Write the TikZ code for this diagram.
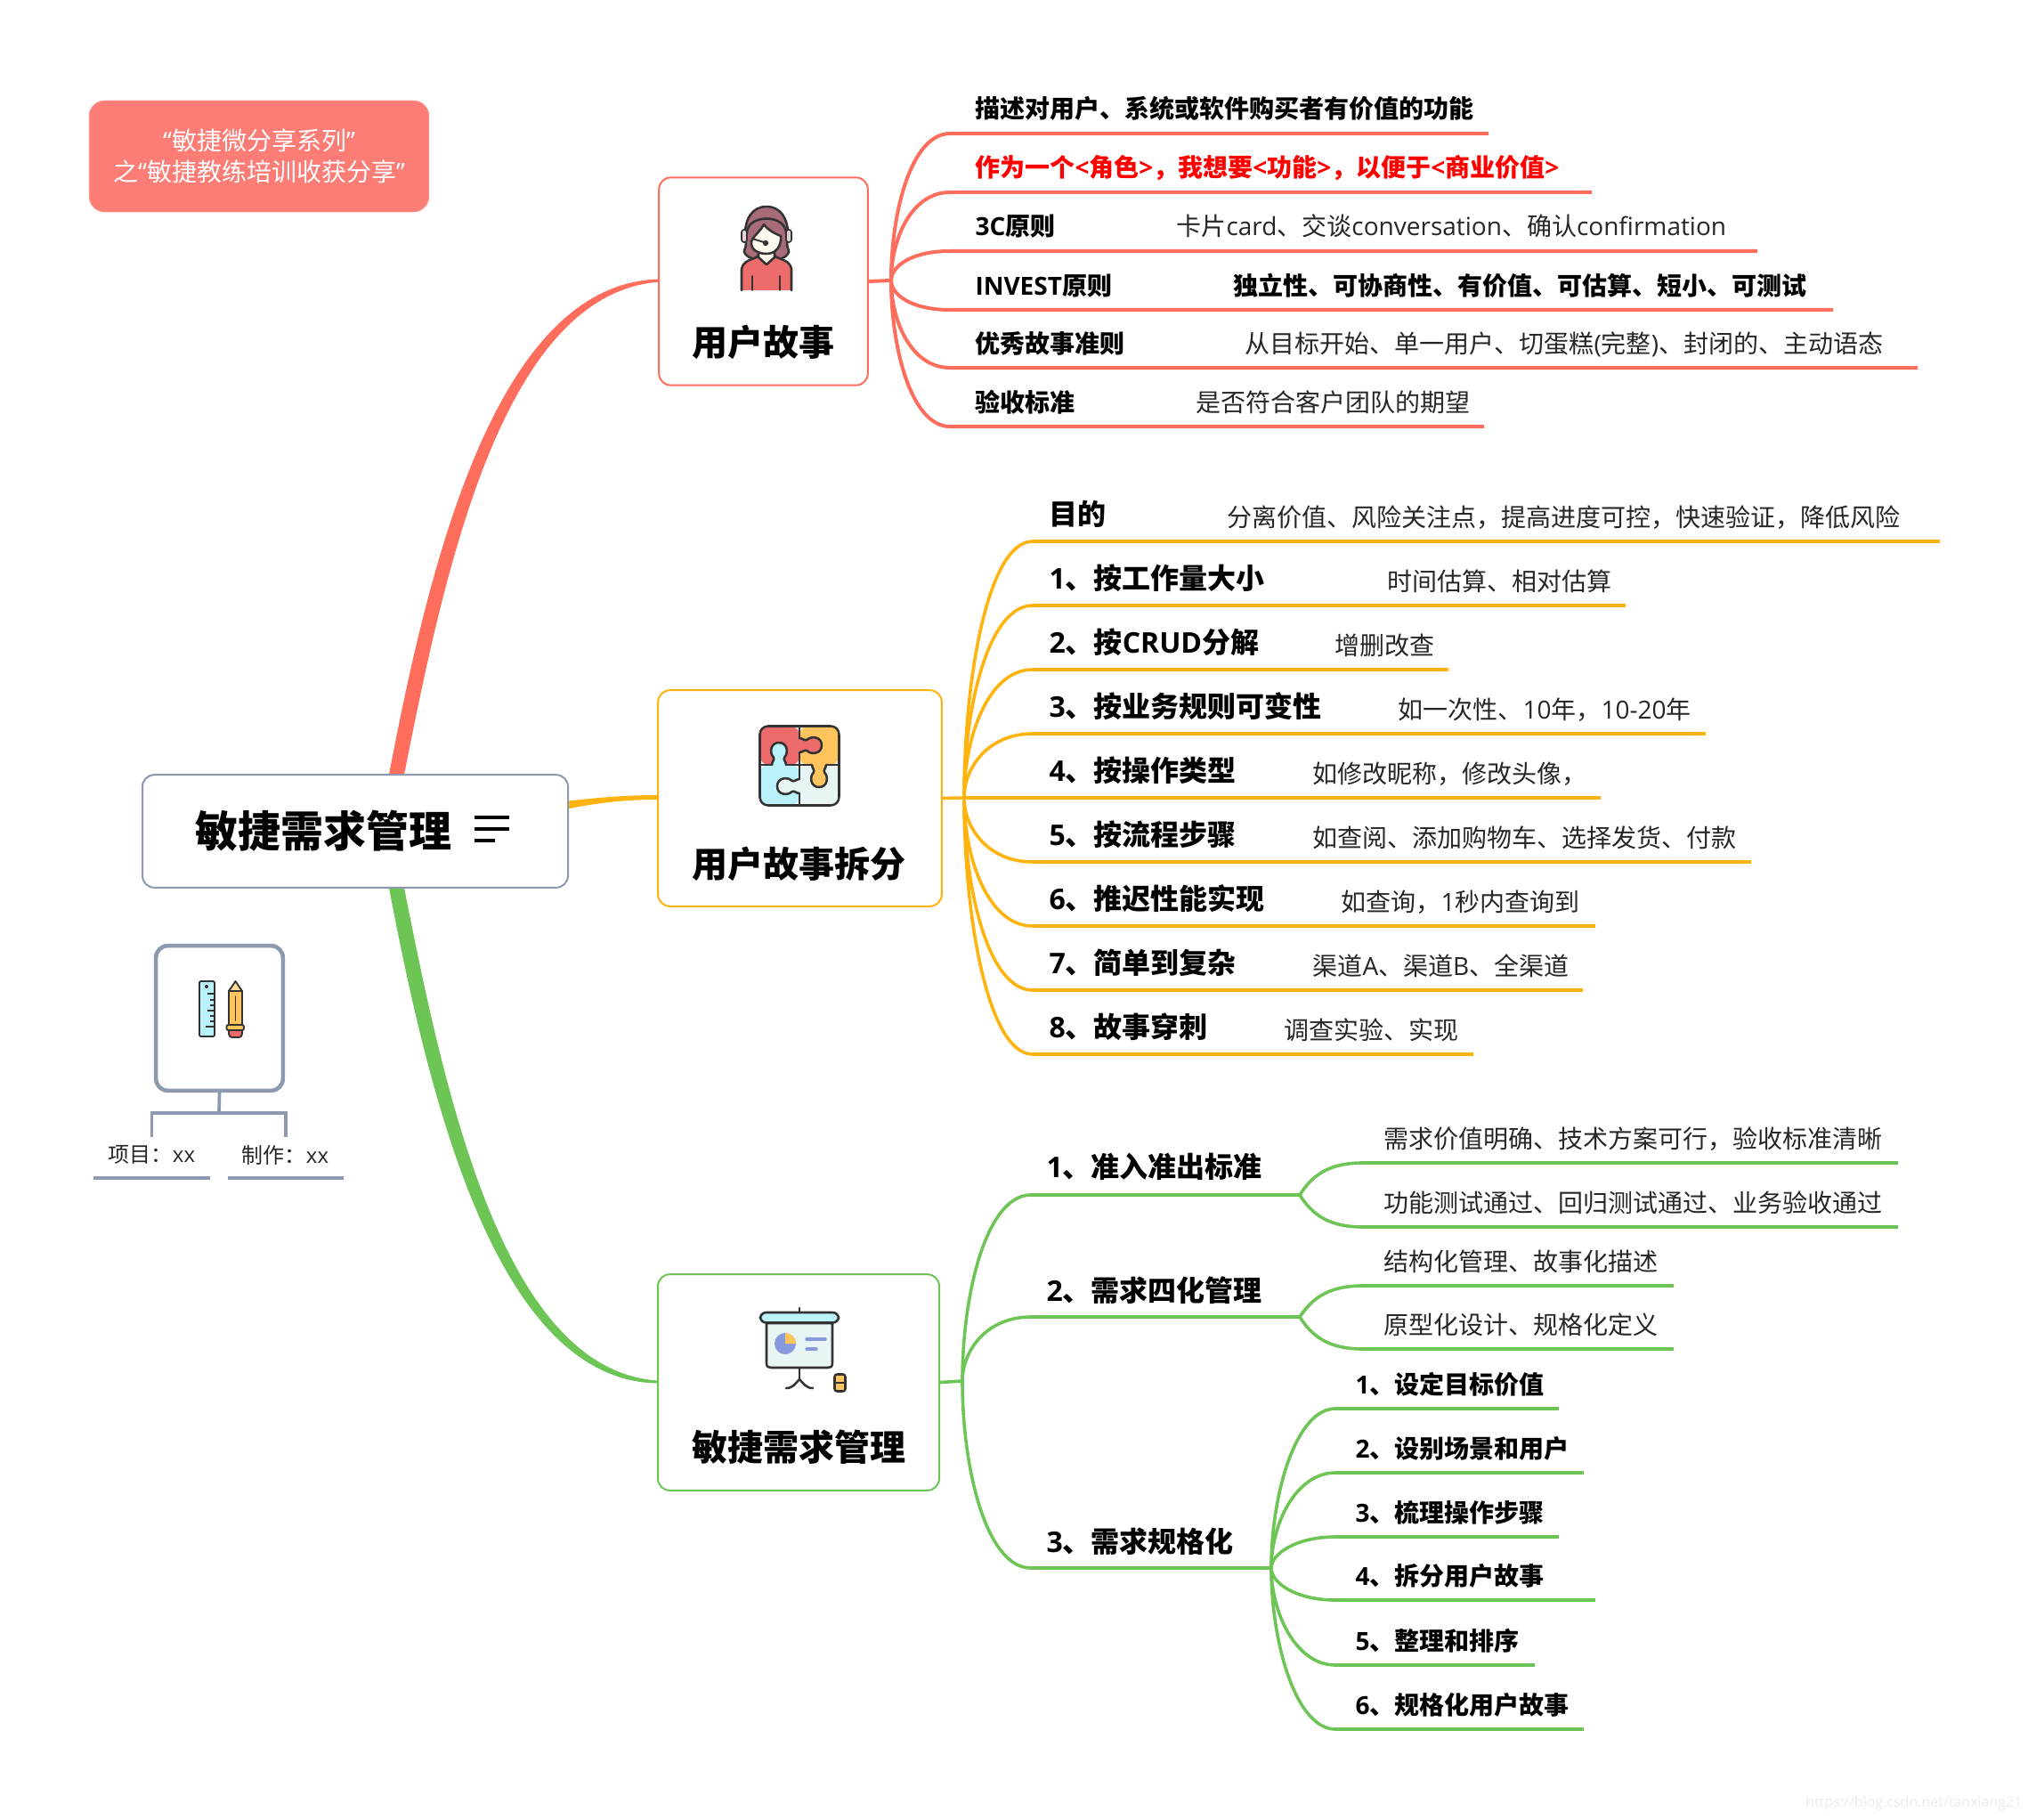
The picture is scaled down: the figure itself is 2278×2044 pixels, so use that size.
\documentclass[tikz,border=0pt]{standalone}
\usepackage{fontspec}
\setmainfont{Noto Sans CJK SC}
\newfontfamily\lat{Open Sans}
\newcommand{\la}[1]{{\lat #1}}
\definecolor{cRed}{RGB}{255,110,93}
\definecolor{cYellow}{RGB}{255,179,15}
\definecolor{cGreen}{RGB}{109,197,85}
\definecolor{cGrey}{RGB}{141,153,174}
\definecolor{cTitle}{RGB}{252,124,118}
\definecolor{cInk}{RGB}{51,51,51}
\definecolor{cCoral}{RGB}{238,107,107}
\definecolor{cAmber}{RGB}{255,197,92}
\definecolor{cSky}{RGB}{186,242,251}
\definecolor{cPale}{RGB}{232,245,245}
\definecolor{cCream}{RGB}{255,248,238}
\definecolor{cMauve}{RGB}{168,107,120}
\definecolor{cBlue}{RGB}{136,153,221}
\tikzset{every picture/.style={line width=0.75pt}}
\tikzset{
  topicBox/.style={draw,fill=white,rounded corners=10pt,line width=1.5pt,inner sep=0pt},
  topicText/.style={font=\bfseries\fontsize{30}{36}\selectfont,inner sep=0pt},
  branchRed/.style={draw=cRed,line width=3pt},
  branchYellow/.style={draw=cYellow,line width=2.7pt},
  branchGreen/.style={draw=cGreen,line width=2.7pt},
  leafBold/.style={anchor=base west,inner sep=0pt,font=\bfseries\fontsize{21}{25}\selectfont},
  leafPlain/.style={anchor=base west,inner sep=0pt,font=\fontsize{21}{25}\selectfont,text=black!85},
  headBold/.style={anchor=base west,inner sep=0pt,font=\bfseries\fontsize{24}{29}\selectfont},
  iconLine/.style={draw=cInk,line width=1.9pt,line join=round,line cap=round},
  knob/.pic={\filldraw [iconLine,pic actions] (0,-8) .. controls (4,-8) and (6,-4) .. (9,-6.5) .. controls (13,-10.5) and (25,-10) .. (25,0) .. controls (25,10) and (13,10.5) .. (9,6.5) .. controls (6,4) and (4,8) .. (0,8) ;}
}

\begin{document}
\begin{tikzpicture}[x=0.75pt,y=0.75pt,yscale=-1,xscale=1]
\useasboundingbox (0,0) rectangle (2278,2044);

%Named points of the main branches
\coordinate (rootUa) at (436,875);
\coordinate (rootUb) at (453,875);
\coordinate (rootDa) at (436,992);
\coordinate (rootDb) at (453,992);
\coordinate (rootRa) at (634,900);
\coordinate (rootRb) at (634,909);
\coordinate (storyIa) at (742,313.5);
\coordinate (storyIb) at (742,316.5);
\coordinate (splitIa) at (739,893);
\coordinate (splitIb) at (739,898);
\coordinate (agileIa) at (739,1550.5);
\coordinate (agileIb) at (739,1553.5);

%Tapered Branch
\fill [cRed] (rootUa) .. controls (481,638) and (556,316) .. (storyIa) -- (storyIb) .. controls (564,328) and (499,642) .. (rootUb) -- cycle ;
%Tapered Branch
\fill [cYellow] (rootRa) .. controls (670,896) and (700,893) .. (splitIa) -- (splitIb) .. controls (700,898) and (670,902) .. (rootRb) -- cycle ;
%Tapered Branch
\fill [cGreen] (rootDa) .. controls (481,1229) and (556,1551) .. (agileIb) -- (agileIa) .. controls (564,1539) and (499,1225) .. (rootDb) -- cycle ;

%Rounded Rect
\draw (399,933.5) node (root) [topicBox,draw=cGrey,minimum width=358.5pt,minimum height=95pt] {};
%Rounded Rect
\draw (291,175.5) node (title) [topicBox,draw=cTitle!85!white,fill=cTitle,line width=0.75pt,rounded corners=13pt,minimum width=286pt,minimum height=93.5pt,font=\fontsize{21}{26.5}\selectfont,text=white,align=center] {\la{“}敏捷微分享系列\la{”}\\之\la{“}敏捷教练培训收获分享\la{”}};
%Rounded Rect
\draw (857.5,316) node (nStory) [topicBox,draw=cRed,minimum width=176pt,minimum height=175pt] {};
%Rounded Rect
\draw (898.5,896.5) node (nSplit) [topicBox,draw=cYellow,minimum width=239pt,minimum height=182pt] {};
%Rounded Rect
\draw (897,1552.5) node (nAgile) [topicBox,draw=cGreen,minimum width=237pt,minimum height=182pt] {};
%Rounded Rect
\draw (246.5,1143.5) node (nProject) [topicBox,draw=cGrey,line width=3.4pt,minimum width=107pt,minimum height=122pt] {};

% Text Node
\draw (363,933) node (rootText) [topicText,font=\bfseries\fontsize{36}{43}\selectfont] {敏捷需求管理};
% Text Node
\draw (857,384) node (storyText) [topicText] {用户故事};
% Text Node
\draw (897,970) node (splitText) [topicText] {用户故事拆分};
% Text Node
\draw (897,1625) node (agileText) [topicText] {敏捷需求管理};

%Straight Lines
\draw [line width=2.3pt] (533,918) -- (572,918) (533,931) -- (572,931) (533,944) -- (556,944) ;

%Project fork
\coordinate (forkTop) at (246,1250);
\coordinate (forkL) at (170.5,1250);
\coordinate (forkR) at (321,1250);
\coordinate (endL) at (170.5,1277);
\coordinate (endR) at (321,1277);
\draw [draw=cGrey,line width=2.8pt] (nProject.south) -- (forkTop) ;
\draw [draw=cGrey,line width=2.8pt] (endL) -- (forkL) -- (forkR) -- (endR) ;
% Text Node
\draw (170.5,1297) node (projText) [inner sep=0pt,font=\fontsize{18}{22}\selectfont,text=black!85] {项目：\la{xx}};
% Text Node
\draw (320.5,1297) node (makeText) [inner sep=0pt,font=\fontsize{18}{22}\selectfont,text=black!85] {制作：\la{xx}};
\coordinate (projA) at (105,1323);
\coordinate (projB) at (236,1323);
\coordinate (makeA) at (256,1323);
\coordinate (makeB) at (386,1323);
\draw [draw=cGrey,line width=3.4pt] (projA) -- (projB) ;
\draw [draw=cGrey,line width=3.4pt] (makeA) -- (makeB) ;

%Icon: ruler
\draw [iconLine,fill=cSky,rounded corners=1pt,line width=1.4pt] (224,1102) rectangle (241,1164) ;
\fill [cInk] (232,1108) circle (2) ;
\draw [iconLine,line width=1.4pt,line cap=butt] (233,1116) -- (240,1116) (236,1123) -- (240,1123) (236,1129) -- (240,1129) (233,1135) -- (240,1135) (236,1141) -- (240,1141) (236,1147) -- (240,1147) (231,1153) -- (240,1153) ;
%Icon: pencil
\draw [iconLine,fill=cAmber,line width=1.4pt] (257,1113) -- (272,1113) -- (272,1152) -- (257,1152) -- cycle ;
\draw [iconLine,fill=cAmber!60!cCream,line width=1.4pt] (257,1113) -- (264.5,1102) -- (272,1113) -- cycle ;
\draw [iconLine,line width=1.2pt] (264.5,1119) -- (264.5,1146) ;
\draw [iconLine,fill=cCoral,line width=1.4pt] (257,1156) -- (272,1156) -- (272,1161) .. controls (272,1164) and (270,1165) .. (268,1165) -- (261,1165) .. controls (259,1165) and (257,1164) .. (257,1161) -- cycle ;
\draw [iconLine,fill=cAmber,rounded corners=1.5pt,line width=1.4pt] (254.5,1151) rectangle (274,1157) ;

%Icon: person
\filldraw [iconLine,fill=cMauve] (861,232) .. controls (845,232) and (837,246) .. (837,262) -- (838,273) .. controls (838,280) and (834,282) .. (837,285) .. controls (842,291) and (848,291) .. (852,291) -- (870,291) .. controls (875,291) and (881,291) .. (885,285) .. controls (888,282) and (884,280) .. (884,273) -- (885,262) .. controls (885,246) and (877,232) .. (861,232) -- cycle ;
\filldraw [iconLine,fill=cCoral] (833,326) -- (833,302) .. controls (835,292) and (845,292) .. (851,288) -- (861,297) -- (871,288) .. controls (877,292) and (887,292) .. (889,302) -- (889,326) ;
\filldraw [iconLine,fill=cCream] (852,280) -- (852,289) -- (861,297) -- (870,289) -- (870,280) -- cycle ;
\filldraw [iconLine,fill=cCream] (844,271) .. controls (848,263) and (855,259) .. (858,252) .. controls (863,259) and (872,263) .. (877,265) .. controls (878,276) and (872,285) .. (861,285) .. controls (852,285) and (843,281) .. (844,271) -- cycle ;
\draw [iconLine,line width=1.4pt] (845,310) -- (845,326) (876,310) -- (876,326) ;
\draw [iconLine] (839,262) .. controls (839,240) and (883,240) .. (883,262) ;
\filldraw [iconLine,fill=cMauve!30!white,line width=1.2pt,rounded corners=2pt] (833,258) rectangle (839,272) ;
\filldraw [iconLine,fill=cMauve!30!white,line width=1.2pt,rounded corners=2pt] (883,258) rectangle (889,272) ;
\draw [iconLine,line width=1.4pt] (845,268) -- (858,272) ;
\fill [cInk] (860,273) circle (3.2) ;

%Icon: puzzle
\fill [cCoral,rounded corners=7pt] (854,816) -- (898,816) -- (898,859) -- (854,859) -- cycle ;
\fill [cAmber,rounded corners=7pt] (898,816) -- (942,816) -- (942,859) -- (898,859) -- cycle ;
\fill [cSky,rounded corners=7pt] (854,859) -- (898,859) -- (898,904) -- (854,904) -- cycle ;
\fill [cPale,rounded corners=7pt] (898,859) -- (942,859) -- (942,904) -- (898,904) -- cycle ;
\draw [iconLine,line cap=butt] (898,815) -- (898,829) (898,845) -- (898,859) (854,859) -- (867,859) (883,859) -- (912,859) (928,859) -- (942,859) (898,859) -- (898,875) (898,891) -- (898,905) ;
\pic [fill=cCoral] at (898,837) {knob};
\pic [fill=cSky,rotate=90] at (875,859) {knob};
\pic [fill=cAmber,rotate=-90] at (920,859) {knob};
\pic [fill=cPale,rotate=180] at (898,883) {knob};
\draw [iconLine,rounded corners=7pt] (853.5,815.5) rectangle (942.5,904.5) ;

%Icon: projector
\draw [iconLine] (898,1469) -- (898,1474) ;
\filldraw [iconLine,fill=cPale] (861,1486) -- (861,1531) .. controls (861,1535) and (863,1536) .. (866,1536) -- (930,1536) .. controls (933,1536) and (935,1535) .. (935,1531) -- (935,1486) -- cycle ;
\filldraw [iconLine,fill=cSky,rounded corners=5pt] (854,1474) rectangle (942,1485.5) ;
\fill [cBlue] (882,1509) circle (12) ;
\fill [cAmber] (882,1509) -- (882,1497) arc (-90:0:12) -- cycle ;
\draw [draw=cBlue,line width=2.4pt,line cap=round] (906,1504) -- (927,1504) (906,1515) -- (917,1515) ;
\draw [iconLine] (898,1537) -- (898,1549) ;
\draw [iconLine] (883,1559) .. controls (891,1559) and (894,1553) .. (898,1549) .. controls (902,1553) and (905,1559) .. (913,1559) ;
\filldraw [iconLine,fill=cAmber,rounded corners=2pt] (937.5,1543.5) rectangle (949.5,1562.5) ;
\draw [iconLine,line cap=butt] (938,1553) -- (949,1553) ;

%Branches of the story topic
\coordinate (jnStory) at (1001,315);
\draw [branchRed] (nStory.east) -- (jnStory) ;
\coordinate (s1a) at (1067,150); \coordinate (s1b) at (1672,150);
\coordinate (s2a) at (1067,216); \coordinate (s2b) at (1788,216);
\coordinate (s3a) at (1067,282); \coordinate (s3b) at (1974,282);
\coordinate (s4a) at (1067,348); \coordinate (s4b) at (2059,348);
\coordinate (s5a) at (1067,413); \coordinate (s5b) at (2154,413);
\coordinate (s6a) at (1067,479); \coordinate (s6b) at (1667,479);
\draw [branchRed] (jnStory) .. controls (1001,237) and (1024,150) .. (s1a) -- (s1b) ;
\draw [branchRed] (jnStory) .. controls (1001,268) and (1024,216) .. (s2a) -- (s2b) ;
\draw [branchRed] (jnStory) .. controls (1001,299) and (1024,282) .. (s3a) -- (s3b) ;
\draw [branchRed] (jnStory) .. controls (1001,331) and (1024,348) .. (s4a) -- (s4b) ;
\draw [branchRed] (jnStory) .. controls (1001,361) and (1024,413) .. (s5a) -- (s5b) ;
\draw [branchRed] (jnStory) .. controls (1001,392) and (1024,479) .. (s6a) -- (s6b) ;

% Text Node
\draw (1095,133) node (s1t) [leafBold] {描述对用户、系统或软件购买者有价值的功能};
% Text Node
\draw (1095,199) node (s2t) [leafBold,text=red] {作为一个\la{<}角色\la{>}，我想要\la{<}功能\la{>}，以便于\la{<}商业价值\la{>}};
% Text Node
\draw (1095,265) node (s3t) [leafBold] {\la{3C}原则};
% Text Node
\draw (1321,265) node (s3d) [leafPlain] {卡片\la{card}、交谈\la{conversation}、确认\la{confirmation}};
% Text Node
\draw (1095,331) node (s4t) [leafBold] {\la{INVEST}原则};
% Text Node
\draw (1385,331) node (s4d) [leafBold] {独立性、可协商性、有价值、可估算、短小、可测试};
% Text Node
\draw (1095,396) node (s5t) [leafBold] {优秀故事准则};
% Text Node
\draw (1398,396) node (s5d) [leafPlain] {从目标开始、单一用户、切蛋糕\la{(}完整\la{)}、封闭的、主动语态};
% Text Node
\draw (1095,462) node (s6t) [leafBold] {验收标准};
% Text Node
\draw (1343,462) node (s6d) [leafPlain] {是否符合客户团队的期望};

%Branches of the split topic
\coordinate (jnSplit) at (1083,896);
\coordinate (k1a) at (1160,608); \coordinate (k1b) at (2179,608);
\coordinate (k2a) at (1160,680); \coordinate (k2b) at (1826,680);
\coordinate (k3a) at (1160,752); \coordinate (k3b) at (1627,752);
\coordinate (k4a) at (1160,824); \coordinate (k4b) at (1916,824);
\coordinate (k5b) at (1798,896);
\coordinate (k6a) at (1160,968); \coordinate (k6b) at (1967,968);
\coordinate (k7a) at (1160,1040); \coordinate (k7b) at (1792,1040);
\coordinate (k8a) at (1160,1112); \coordinate (k8b) at (1778,1112);
\coordinate (k9a) at (1160,1184); \coordinate (k9b) at (1655,1184);
\draw [branchYellow] (nSplit.east) -- (jnSplit) -- (k5b) ;
\draw [branchYellow] (jnSplit) .. controls (1083,761) and (1110,608) .. (k1a) -- (k1b) ;
\draw [branchYellow] (jnSplit) .. controls (1083,795) and (1110,680) .. (k2a) -- (k2b) ;
\draw [branchYellow] (jnSplit) .. controls (1083,828) and (1110,752) .. (k3a) -- (k3b) ;
\draw [branchYellow] (jnSplit) .. controls (1083,862) and (1110,824) .. (k4a) -- (k4b) ;
\draw [branchYellow] (jnSplit) .. controls (1083,930) and (1110,968) .. (k6a) -- (k6b) ;
\draw [branchYellow] (jnSplit) .. controls (1083,964) and (1110,1040) .. (k7a) -- (k7b) ;
\draw [branchYellow] (jnSplit) .. controls (1083,998) and (1110,1112) .. (k8a) -- (k8b) ;
\draw [branchYellow] (jnSplit) .. controls (1083,1031) and (1110,1184) .. (k9a) -- (k9b) ;

% Text Node
\draw (1178,589) node (k1t) [headBold] {目的};
% Text Node
\draw (1378,591) node (k1d) [leafPlain] {分离价值、风险关注点，提高进度可控，快速验证，降低风险};
% Text Node
\draw (1178,661) node (k2t) [headBold] {\la{1}、按工作量大小};
% Text Node
\draw (1558,663) node (k2d) [leafPlain] {时间估算、相对估算};
% Text Node
\draw (1178,733) node (k3t) [headBold] {\la{2}、按\la{CRUD}分解};
% Text Node
\draw (1499,735) node (k3d) [leafPlain] {增删改查};
% Text Node
\draw (1178,805) node (k4t) [headBold] {\la{3}、按业务规则可变性};
% Text Node
\draw (1570,807) node (k4d) [leafPlain] {如一次性、\la{10}年，\la{10-20}年};
% Text Node
\draw (1178,877) node (k5t) [headBold] {\la{4}、按操作类型};
% Text Node
\draw (1474,879) node (k5d) [leafPlain] {如修改昵称，修改头像，};
% Text Node
\draw (1178,949) node (k6t) [headBold] {\la{5}、按流程步骤};
% Text Node
\draw (1474,951) node (k6d) [leafPlain] {如查阅、添加购物车、选择发货、付款};
% Text Node
\draw (1178,1021) node (k7t) [headBold] {\la{6}、推迟性能实现};
% Text Node
\draw (1506,1023) node (k7d) [leafPlain] {如查询，\la{1}秒内查询到};
% Text Node
\draw (1178,1093) node (k8t) [headBold] {\la{7}、简单到复杂};
% Text Node
\draw (1474,1095) node (k8d) [leafPlain] {渠道\la{A}、渠道\la{B}、全渠道};
% Text Node
\draw (1178,1165) node (k9t) [headBold] {\la{8}、故事穿刺};
% Text Node
\draw (1442,1167) node (k9d) [leafPlain] {调查实验、实现};

%Branches of the agile topic
\coordinate (jnAgile) at (1081,1551);
\coordinate (g1a) at (1158,1342); \coordinate (jnG1) at (1460,1342);
\coordinate (g2a) at (1158,1479); \coordinate (jnG2) at (1460,1479);
\coordinate (g3a) at (1158,1761); \coordinate (jnG3) at (1428,1761);
\draw [branchGreen] (nAgile.east) -- (jnAgile) ;
\draw [branchGreen] (jnAgile) .. controls (1081,1453) and (1108,1342) .. (g1a) -- (jnG1) ;
\draw [branchGreen] (jnAgile) .. controls (1081,1517) and (1108,1479) .. (g2a) -- (jnG2) ;
\draw [branchGreen] (jnAgile) .. controls (1081,1650) and (1108,1761) .. (g3a) -- (jnG3) ;

\coordinate (h1a) at (1531,1306); \coordinate (h1b) at (2132,1306);
\coordinate (h2a) at (1531,1378); \coordinate (h2b) at (2132,1378);
\coordinate (h3a) at (1531,1444); \coordinate (h3b) at (1880,1444);
\coordinate (h4a) at (1531,1515); \coordinate (h4b) at (1880,1515);
\draw [branchGreen] (jnG1) .. controls (1475,1318) and (1495,1306) .. (h1a) -- (h1b) ;
\draw [branchGreen] (jnG1) .. controls (1475,1366) and (1495,1378) .. (h2a) -- (h2b) ;
\draw [branchGreen] (jnG2) .. controls (1475,1456) and (1495,1444) .. (h3a) -- (h3b) ;
\draw [branchGreen] (jnG2) .. controls (1475,1503) and (1495,1515) .. (h4a) -- (h4b) ;

\coordinate (m1a) at (1500,1582); \coordinate (m1b) at (1751,1582);
\coordinate (m2a) at (1500,1654); \coordinate (m2b) at (1779,1654);
\coordinate (m3a) at (1500,1726); \coordinate (m3b) at (1751,1726);
\coordinate (m4a) at (1500,1797); \coordinate (m4b) at (1792,1797);
\coordinate (m5a) at (1500,1870); \coordinate (m5b) at (1724,1870);
\coordinate (m6a) at (1500,1942); \coordinate (m6b) at (1779,1942);
\draw [branchGreen] (jnG3) .. controls (1428,1677) and (1456,1582) .. (m1a) -- (m1b) ;
\draw [branchGreen] (jnG3) .. controls (1428,1711) and (1456,1654) .. (m2a) -- (m2b) ;
\draw [branchGreen] (jnG3) .. controls (1428,1745) and (1456,1726) .. (m3a) -- (m3b) ;
\draw [branchGreen] (jnG3) .. controls (1428,1778) and (1456,1797) .. (m4a) -- (m4b) ;
\draw [branchGreen] (jnG3) .. controls (1428,1812) and (1456,1870) .. (m5a) -- (m5b) ;
\draw [branchGreen] (jnG3) .. controls (1428,1846) and (1456,1942) .. (m6a) -- (m6b) ;

% Text Node
\draw (1175,1322) node (g1t) [headBold] {\la{1}、准入准出标准};
% Text Node
\draw (1175,1461) node (g2t) [headBold] {\la{2}、需求四化管理};
% Text Node
\draw (1175,1743) node (g3t) [headBold] {\la{3}、需求规格化};
% Text Node
\draw (1554,1289) node (h1t) [leafPlain] {需求价值明确、技术方案可行，验收标准清晰};
% Text Node
\draw (1554,1361) node (h2t) [leafPlain] {功能测试通过、回归测试通过、业务验收通过};
% Text Node
\draw (1554,1427) node (h3t) [leafPlain] {结构化管理、故事化描述};
% Text Node
\draw (1554,1498) node (h4t) [leafPlain] {原型化设计、规格化定义};
% Text Node
\draw (1522,1565) node (m1t) [leafBold] {\la{1}、设定目标价值};
% Text Node
\draw (1522,1637) node (m2t) [leafBold] {\la{2}、设别场景和用户};
% Text Node
\draw (1522,1709) node (m3t) [leafBold] {\la{3}、梳理操作步骤};
% Text Node
\draw (1522,1780) node (m4t) [leafBold] {\la{4}、拆分用户故事};
% Text Node
\draw (1522,1853) node (m5t) [leafBold] {\la{5}、整理和排序};
% Text Node
\draw (1522,1925) node (m6t) [leafBold] {\la{6}、规格化用户故事};

% Text Node
\draw (2272,2025) node (mark) [anchor=east,inner sep=0pt,font=\lat\fontsize{12}{14}\selectfont,text=black!8] {https://blog.csdn.net/tanxiang21};

\end{tikzpicture}
\end{document}
